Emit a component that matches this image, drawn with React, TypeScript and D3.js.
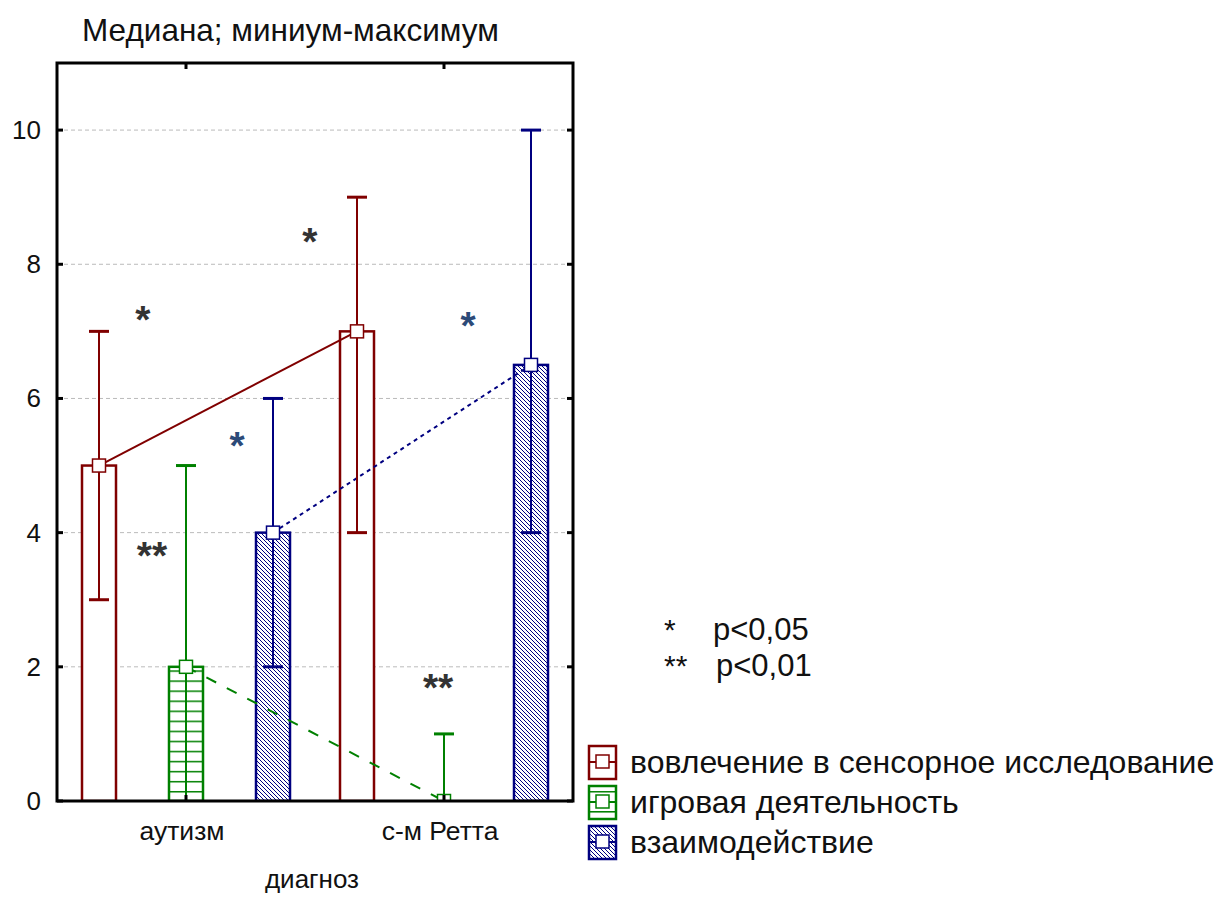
import React from "react";
import * as d3 from "d3";

const categories = ["аутизм", "с-м Ретта"];
const seriesNames = ["вовлечение в сенсорное исследование", "игровая деятельность", "взаимодействие"];
const seriesColors = ["#800000", "#008000", "#000080"];
// medians, minimums, maximums per series, per category
const medians = [[5, 7], [2, 0], [4, 6.5]];
const minimums = [[3, 4], [0, 0], [2, 4]];
const maximums = [[7, 9], [5, 1], [6, 10]];
const yTicks = [0, 2, 4, 6, 8, 10];
const title = "Медиана; миниум-максимум";
const xTitle = "диагноз";
// significance marks: position along categories (0 = first, 1 = second), value
const marks = [
  { text: "*", pos: -0.167, v: 7.3, blue: false },
  { text: "*", pos: 0.48, v: 8.46, blue: false },
  { text: "*", pos: 0.198, v: 5.43, blue: true },
  { text: "*", pos: 1.093, v: 7.21, blue: true },
  { text: "**", pos: -0.132, v: 3.79, blue: false },
  { text: "**", pos: 0.977, v: 1.82, blue: false },
];
const pLegend = [
  { sym: "*", text: "p<0,05" },
  { sym: "**", text: "p<0,01" },
];

const W = 1216, H = 897;
const L = 57, R = 573, T = 63, B = 801;
const FONT = "'Liberation Sans', Arial, sans-serif";

export default function App() {
  const x = d3.scaleBand<string>().domain(categories).range([L, R]);
  const y = d3.scaleLinear().domain([0, 11]).range([B, T]);
  const pos = d3.scaleLinear().domain([0, 1]).range([x(categories[0])! + x.bandwidth() / 2, x(categories[1])! + x.bandwidth() / 2]);
  const offs = d3.scaleLinear().domain([0, 2]).range([-87, 87]);
  const bw = 34;
  const cx = (ci: number, si: number) => x(categories[ci])! + x.bandwidth() / 2 + offs(si);
  const fills = ["#ffffff", "url(#pGreen)", "url(#pBlue)"];
  const dashes = [undefined, "11,12", "4,4"];
  const markSize = 13;
  const capW = 20;

  return (
    <svg width={W} height={H} style={{ position: "absolute", left: 0, top: 0, background: "#fff" }} fontFamily={FONT}>
      <defs>
        <pattern id="pGreen" patternUnits="userSpaceOnUse" width="10" height="10.05" y={B}>
          <rect width="10" height="10.05" fill="#fff" />
          <line x1="0" x2="10" y1="0.75" y2="0.75" stroke="#008000" strokeWidth="1.5" />
        </pattern>
        <pattern id="pBlue" patternUnits="userSpaceOnUse" width="4" height="4">
          <rect width="4" height="4" fill="#fff" />
          <path d="M-1,-1 L5,5 M-1,3 L1,5 M3,-1 L5,1" stroke="#000080" strokeWidth="1" />
        </pattern>
        <clipPath id="plotClip">
          <rect x={L} y={T} width={R - L} height={B - T} />
        </clipPath>
      </defs>

      <text x={82} y={41} fontSize={31.5} fill="#111">{title}</text>

      {/* grid */}
      {yTicks.filter(t => t > 0).map(t => (
        <line key={t} x1={L} x2={R} y1={y(t)} y2={y(t)} stroke="#bbb" strokeWidth={1} strokeDasharray="4,3" />
      ))}

      <g clipPath="url(#plotClip)">
        {/* bars */}
        {medians.map((row, si) => row.map((m, ci) => m > 0 && (
          <rect key={`b${si}${ci}`} x={cx(ci, si) - bw / 2} y={y(m)} width={bw} height={y(0) - y(m)}
            fill={fills[si]} stroke={seriesColors[si]} strokeWidth={2.5} />
        )))}
        {/* connecting lines */}
        {medians.map((row, si) => (
          <path key={`l${si}`} d={d3.line<number>().x((_, ci) => cx(ci, si)).y(v => y(v))(row)!}
            fill="none" stroke={seriesColors[si]} strokeWidth={2} strokeDasharray={dashes[si]} />
        ))}
        {/* whiskers */}
        {medians.map((row, si) => row.map((_, ci) => {
          const c = cx(ci, si);
          return (
            <g key={`w${si}${ci}`} stroke={seriesColors[si]} strokeWidth={2}>
              <line x1={c} x2={c} y1={y(minimums[si][ci])} y2={y(maximums[si][ci])} />
              <line x1={c - capW / 2} x2={c + capW / 2} y1={y(maximums[si][ci])} y2={y(maximums[si][ci])} strokeWidth={3} />
              {minimums[si][ci] > 0 && <line x1={c - capW / 2} x2={c + capW / 2} y1={y(minimums[si][ci])} y2={y(minimums[si][ci])} strokeWidth={3} />}
            </g>
          );
        }))}
        {/* median markers */}
        {medians.map((row, si) => row.map((m, ci) => (
          <rect key={`m${si}${ci}`} x={cx(ci, si) - markSize / 2} y={y(m) - markSize / 2} width={markSize} height={markSize}
            fill="#fff" stroke={seriesColors[si]} strokeWidth={1.5} />
        )))}
      </g>

      {/* frame */}
      <rect x={L} y={T} width={R - L} height={B - T} fill="none" stroke="#000" strokeWidth={3} />
      {/* ticks */}
      {yTicks.map(t => (
        <g key={`t${t}`}>
          <line x1={L} x2={L + 6} y1={y(t)} y2={y(t)} stroke="#000" strokeWidth={3} />
          <line x1={R - 6} x2={R} y1={y(t)} y2={y(t)} stroke="#000" strokeWidth={3} />
          <text x={41} y={y(t)} fontSize={26} textAnchor="end" dominantBaseline="central" fill="#111">{t}</text>
        </g>
      ))}
      {categories.map((c, ci) => {
        const xc = x(c)! + x.bandwidth() / 2;
        return (
          <g key={c}>
            <line x1={xc} x2={xc} y1={T} y2={T + 6} stroke="#000" strokeWidth={3} />
            <line x1={xc} x2={xc} y1={B} y2={B - 6} stroke="#000" strokeWidth={3} />
            <text x={xc - 4} y={840} fontSize={26.5} textAnchor="middle" fill="#111">{c}</text>
          </g>
        );
      })}
      <text x={312} y={888} fontSize={26} textAnchor="middle" fill="#111">{xTitle}</text>

      {/* significance marks */}
      {marks.map((mk, i) => (
        <text key={`k${i}`} x={pos(mk.pos)} y={y(mk.v) + 22} fontSize={39} fontWeight="bold" textAnchor="middle"
          fill={mk.blue ? "#2c4a78" : "#333"}>{mk.text}</text>
      ))}

      {/* p legend */}
      {pLegend.map((p, i) => (
        <g key={`p${i}`}>
          <text x={664} y={640 + i * 36} fontSize={30} fill="#111">{p.sym}</text>
          <text x={713 + i * 3} y={640 + i * 36} fontSize={31} fill="#111">{p.text}</text>
        </g>
      ))}

      {/* series legend */}
      {seriesNames.map((s, si) => {
        const cy = 762 + si * 40;
        return (
          <g key={`lg${si}`}>
            <rect x={589} y={cy - 16} width={27} height={33} fill={fills[si]} stroke={seriesColors[si]} strokeWidth={2.5} />
            <line x1={589} x2={616} y1={cy} y2={cy} stroke={seriesColors[si]} strokeWidth={2} />
            <rect x={596} y={cy - 7} width={13} height={13} fill="#fff" stroke={seriesColors[si]} strokeWidth={1.5} />
            <text x={630} y={cy + 11} fontSize={32} fill="#111">{s}</text>
          </g>
        );
      })}
    </svg>
  );
}
